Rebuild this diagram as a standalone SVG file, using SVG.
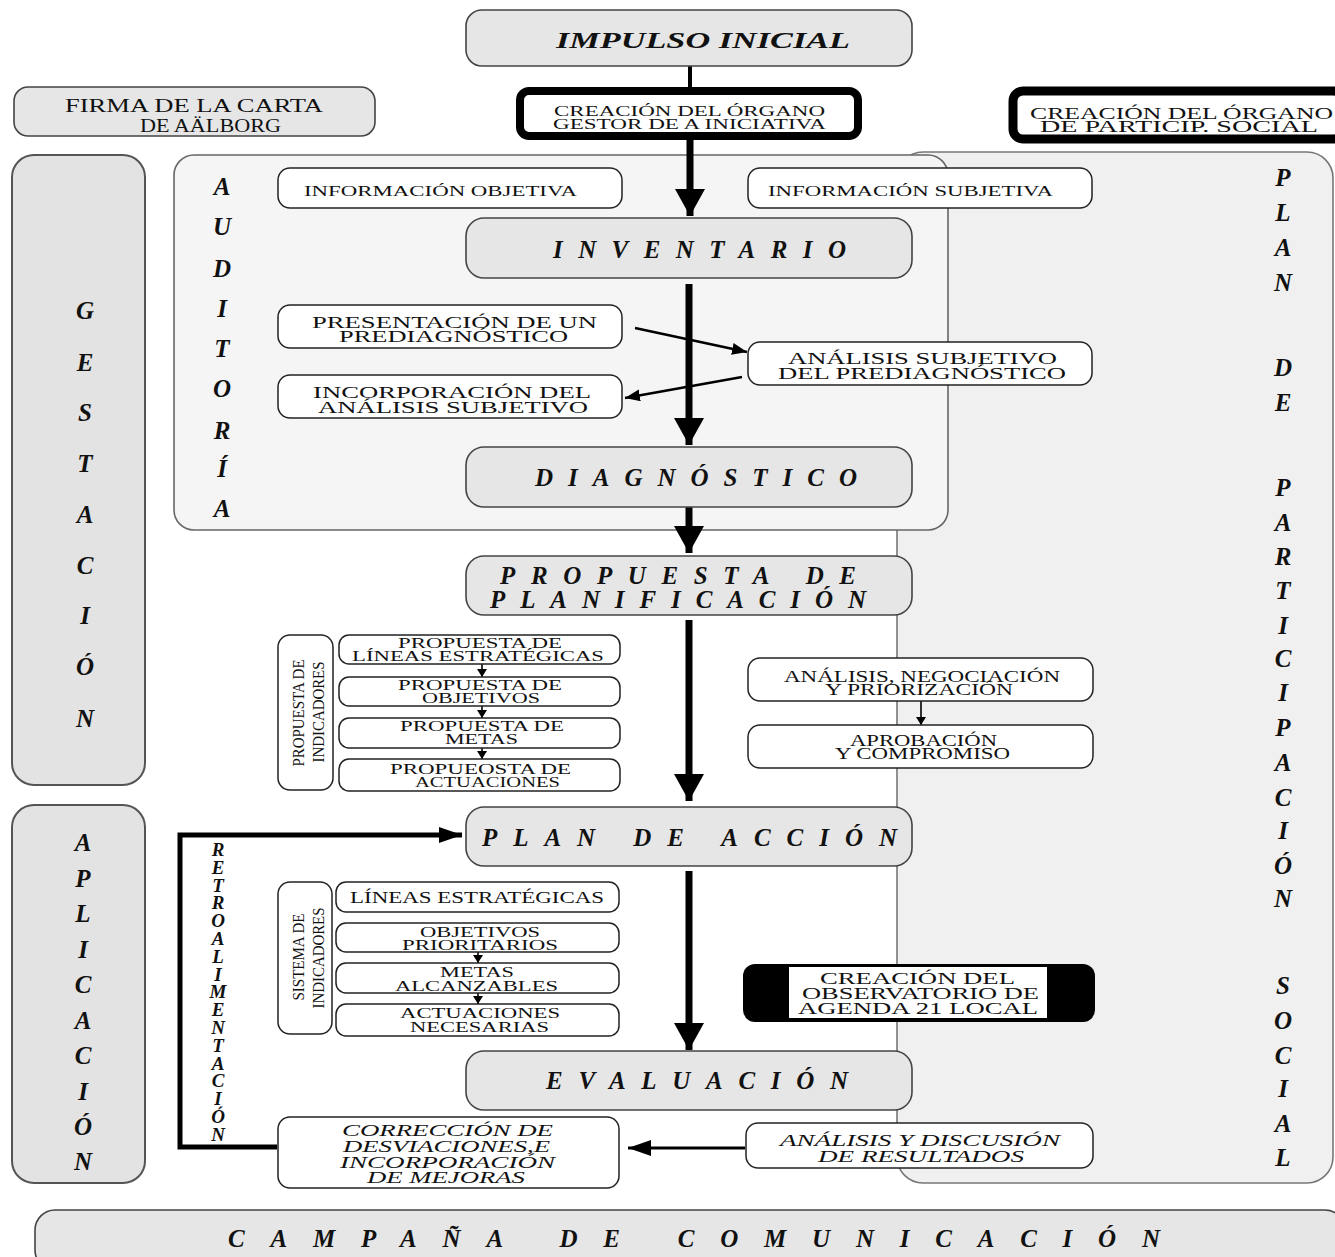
<svg xmlns="http://www.w3.org/2000/svg" width="1335" height="1257" viewBox="0 0 1335 1257">
<style>
text{font-family:"Liberation Serif","Times New Roman",serif;fill:#111}
.bi{font-weight:bold;font-style:italic}
.it{font-style:italic}
.big{font-size:25px;font-weight:bold;font-style:italic}
.col{font-size:25px;font-weight:bold;font-style:italic;text-anchor:middle}
.gbox{fill:#e6e6e6;stroke:#444;stroke-width:1.6}
.wbox{fill:#fff;stroke:#222;stroke-width:1.5}
.conn{stroke:#000;fill:none}
</style>
<defs>
<marker id="big" markerUnits="userSpaceOnUse" markerWidth="30" markerHeight="30" refX="27" refY="15" orient="auto">
<path d="M0,0 L27,15 L0,30 z" fill="#000"/>
</marker>
<marker id="med" markerUnits="userSpaceOnUse" markerWidth="24" markerHeight="16" refX="23" refY="8" orient="auto">
<path d="M0,0 L23,8 L0,16 z" fill="#000"/>
</marker>
<marker id="mid" markerUnits="userSpaceOnUse" markerWidth="16" markerHeight="12" refX="15" refY="6" orient="auto">
<path d="M0,0 L15,6 L0,12 z" fill="#000"/>
</marker>
<marker id="sm" markerUnits="userSpaceOnUse" markerWidth="9" markerHeight="10" refX="8" refY="5" orient="auto">
<path d="M0,0 L8,5 L0,10 z" fill="#000"/>
</marker>
</defs>

<!-- panels -->
<g id="panel-participacion">
<rect x="897" y="152" width="436" height="1031" rx="26" fill="#f0f0f0" stroke="#777" stroke-width="1.6"/>
<text class="col" x="1283"><tspan x="1283" y="186">P</tspan><tspan x="1283" y="221">L</tspan><tspan x="1283" y="256">A</tspan><tspan x="1283" y="291">N</tspan><tspan x="1283" y="376">D</tspan><tspan x="1283" y="411">E</tspan><tspan x="1283" y="496">P</tspan><tspan x="1283" y="531">A</tspan><tspan x="1283" y="565">R</tspan><tspan x="1283" y="599">T</tspan><tspan x="1283" y="634">I</tspan><tspan x="1283" y="667">C</tspan><tspan x="1283" y="701">I</tspan><tspan x="1283" y="736">P</tspan><tspan x="1283" y="771">A</tspan><tspan x="1283" y="806">C</tspan><tspan x="1283" y="839">I</tspan><tspan x="1283" y="874">Ó</tspan><tspan x="1283" y="907">N</tspan><tspan x="1283" y="994">S</tspan><tspan x="1283" y="1029">O</tspan><tspan x="1283" y="1064">C</tspan><tspan x="1283" y="1097">I</tspan><tspan x="1283" y="1132">A</tspan><tspan x="1283" y="1166">L</tspan></text>
</g>
<g id="panel-auditoria">
<rect x="174" y="155" width="774" height="375" rx="20" fill="#f6f5f6" stroke="#666" stroke-width="1.6"/>
<text class="col" x="222"><tspan x="222" y="195">A</tspan><tspan x="222" y="235">U</tspan><tspan x="222" y="277">D</tspan><tspan x="222" y="317">I</tspan><tspan x="222" y="357">T</tspan><tspan x="222" y="397">O</tspan><tspan x="222" y="439">R</tspan><tspan x="222" y="477">Í</tspan><tspan x="222" y="517">A</tspan></text>
</g>
<g id="panel-gestacion">
<rect x="12" y="155" width="133" height="630" rx="22" fill="#e3e3e3" stroke="#555" stroke-width="2"/>
<text class="col" x="85"><tspan x="85" y="319">G</tspan><tspan x="85" y="371">E</tspan><tspan x="85" y="421">S</tspan><tspan x="85" y="472">T</tspan><tspan x="85" y="523">A</tspan><tspan x="85" y="574">C</tspan><tspan x="85" y="624">I</tspan><tspan x="85" y="675">Ó</tspan><tspan x="85" y="727">N</tspan></text>
</g>
<g id="panel-aplicacion">
<rect x="12" y="805" width="133" height="378" rx="22" fill="#e3e3e3" stroke="#555" stroke-width="2"/>
<text class="col" x="83"><tspan x="83" y="851">A</tspan><tspan x="83" y="887">P</tspan><tspan x="83" y="922">L</tspan><tspan x="83" y="958">I</tspan><tspan x="83" y="993">C</tspan><tspan x="83" y="1029">A</tspan><tspan x="83" y="1064">C</tspan><tspan x="83" y="1100">I</tspan><tspan x="83" y="1135">Ó</tspan><tspan x="83" y="1170">N</tspan></text>
</g>

<!-- connectors -->
<g id="connectors">
<line class="conn" x1="690" y1="66" x2="690" y2="88" stroke-width="4"/>
<line class="conn" x1="690" y1="140" x2="690" y2="216" stroke-width="7" marker-end="url(#big)"/>
<line class="conn" x1="689" y1="284" x2="689" y2="445" stroke-width="7" marker-end="url(#big)"/>
<line class="conn" x1="689" y1="507" x2="689" y2="553" stroke-width="7" marker-end="url(#big)"/>
<line class="conn" x1="689" y1="620" x2="689" y2="801" stroke-width="7" marker-end="url(#big)"/>
<line class="conn" x1="689" y1="871" x2="689" y2="1050" stroke-width="7" marker-end="url(#big)"/>
<line class="conn" x1="635" y1="328" x2="747" y2="352" stroke-width="2.5" marker-end="url(#mid)"/>
<line class="conn" x1="742" y1="377" x2="625" y2="398" stroke-width="2.5" marker-end="url(#mid)"/>
<line class="conn" x1="921" y1="701" x2="921" y2="725" stroke-width="1.6" marker-end="url(#sm)"/>
<line class="conn" x1="482" y1="664" x2="482" y2="677" stroke-width="1.6" marker-end="url(#sm)"/>
<line class="conn" x1="482" y1="706" x2="482" y2="718" stroke-width="1.6" marker-end="url(#sm)"/>
<line class="conn" x1="482" y1="748" x2="482" y2="759" stroke-width="1.6" marker-end="url(#sm)"/>
<line class="conn" x1="478" y1="952" x2="478" y2="963" stroke-width="1.6" marker-end="url(#sm)"/>
<line class="conn" x1="478" y1="993" x2="478" y2="1004" stroke-width="1.6" marker-end="url(#sm)"/>
<line class="conn" x1="745" y1="1148" x2="628" y2="1148" stroke-width="3" marker-end="url(#med)"/>
<polyline class="conn" points="277,1147 180,1147 180,835 462,835" stroke-width="5" marker-end="url(#med)"/>
<text class="bi" font-size="19" text-anchor="middle"><tspan x="218" y="856">R</tspan><tspan x="218" y="874">E</tspan><tspan x="218" y="892">T</tspan><tspan x="218" y="909">R</tspan><tspan x="218" y="927">O</tspan><tspan x="218" y="945">A</tspan><tspan x="218" y="963">L</tspan><tspan x="218" y="981">I</tspan><tspan x="218" y="998">M</tspan><tspan x="218" y="1016">E</tspan><tspan x="218" y="1034">N</tspan><tspan x="218" y="1052">T</tspan><tspan x="218" y="1070">A</tspan><tspan x="218" y="1087">C</tspan><tspan x="218" y="1105">I</tspan><tspan x="218" y="1123">Ó</tspan><tspan x="218" y="1141">N</tspan></text>
</g>

<!-- nodes -->
<g id="impulso">
<rect class="gbox" x="466" y="10" width="446" height="56" rx="16"/>
<text class="bi" font-size="23" x="556" y="48" textLength="294" lengthAdjust="spacingAndGlyphs">IMPULSO INICIAL</text>
</g>
<g id="firma">
<rect class="gbox" x="14" y="87" width="361" height="49" rx="14"/>
<text font-size="19" x="65" y="112" textLength="258" lengthAdjust="spacingAndGlyphs">FIRMA DE LA CARTA</text>
<text font-size="19" x="140" y="132" textLength="141" lengthAdjust="spacingAndGlyphs">DE AÄLBORG</text>
</g>
<g id="organo-gestor">
<rect x="520" y="91" width="338" height="45" rx="9" fill="#fff" stroke="#000" stroke-width="8"/>
<text font-size="15" x="554" y="116" textLength="271" lengthAdjust="spacingAndGlyphs">CREACIÓN DEL ÓRGANO</text>
<text font-size="15" x="553" y="129" textLength="273" lengthAdjust="spacingAndGlyphs">GESTOR DE A INICIATIVA</text>
</g>
<g id="organo-participacion">
<rect x="1013" y="91" width="330" height="48" rx="10" fill="#fff" stroke="#000" stroke-width="9"/>
<text font-size="17" x="1030" y="119" textLength="303" lengthAdjust="spacingAndGlyphs">CREACIÓN DEL ÓRGANO</text>
<text font-size="17" x="1040" y="132" textLength="278" lengthAdjust="spacingAndGlyphs">DE PARTICIP. SOCIAL</text>
</g>
<g id="info-objetiva">
<rect class="wbox" x="278" y="168" width="344" height="40" rx="12"/>
<text font-size="15" x="304" y="196" textLength="273" lengthAdjust="spacingAndGlyphs">INFORMACIÓN OBJETIVA</text>
</g>
<g id="info-subjetiva">
<rect class="wbox" x="748" y="168" width="344" height="40" rx="12"/>
<text font-size="15" x="768" y="196" textLength="285" lengthAdjust="spacingAndGlyphs">INFORMACIÓN SUBJETIVA</text>
</g>
<g id="inventario">
<rect class="gbox" x="466" y="218" width="446" height="60" rx="18"/>
<text class="big" x="553" y="258" textLength="293" lengthAdjust="spacing">INVENTARIO</text>
</g>
<g id="prediagnostico">
<rect class="wbox" x="278" y="305" width="344" height="43" rx="12"/>
<text font-size="17" x="312" y="328" textLength="285" lengthAdjust="spacingAndGlyphs">PRESENTACIÓN DE UN</text>
<text font-size="17" x="339" y="342" textLength="229" lengthAdjust="spacingAndGlyphs">PREDIAGNÓSTICO</text>
</g>
<g id="analisis-subjetivo">
<rect class="wbox" x="748" y="342" width="344" height="43" rx="12"/>
<text font-size="17" x="788" y="364" textLength="269" lengthAdjust="spacingAndGlyphs">ANÁLISIS SUBJETIVO</text>
<text font-size="17" x="778" y="379" textLength="288" lengthAdjust="spacingAndGlyphs">DEL PREDIAGNÓSTICO</text>
</g>
<g id="incorporacion">
<rect class="wbox" x="278" y="375" width="344" height="43" rx="12"/>
<text font-size="17" x="313" y="398" textLength="278" lengthAdjust="spacingAndGlyphs">INCORPORACIÓN DEL</text>
<text font-size="17" x="318" y="413" textLength="270" lengthAdjust="spacingAndGlyphs">ANÁLISIS SUBJETIVO</text>
</g>
<g id="diagnostico">
<rect class="gbox" x="466" y="447" width="446" height="60" rx="18"/>
<text class="big" x="535" y="486" textLength="322" lengthAdjust="spacing">DIAGNÓSTICO</text>
</g>
<g id="propuesta-planificacion">
<rect class="gbox" x="466" y="556" width="446" height="59" rx="18"/>
<text class="big" x="500" y="584" textLength="356" lengthAdjust="spacing">PROPUESTA DE</text>
<text class="big" x="490" y="608" textLength="376" lengthAdjust="spacing">PLANIFICACIÓN</text>
</g>
<g id="propuesta-indicadores">
<rect class="wbox" x="278" y="635" width="55" height="155" rx="12"/>
<text font-size="17" text-anchor="middle" transform="translate(304,713) rotate(-90)" textLength="107" lengthAdjust="spacingAndGlyphs">PROPUESTA DE</text>
<text font-size="17" text-anchor="middle" transform="translate(324,712) rotate(-90)" textLength="101" lengthAdjust="spacingAndGlyphs">INDICADORES</text>
</g>
<g id="prop-lineas">
<rect class="wbox" x="339" y="635" width="281" height="29" rx="10"/>
<text font-size="15" x="398" y="648" textLength="164" lengthAdjust="spacingAndGlyphs">PROPUESTA DE</text>
<text font-size="15" x="352" y="661" textLength="252" lengthAdjust="spacingAndGlyphs">LÍNEAS ESTRATÉGICAS</text>
</g>
<g id="prop-objetivos">
<rect class="wbox" x="339" y="677" width="281" height="29" rx="10"/>
<text font-size="15" x="398" y="690" textLength="164" lengthAdjust="spacingAndGlyphs">PROPUESTA DE</text>
<text font-size="15" x="422" y="703" textLength="118" lengthAdjust="spacingAndGlyphs">OBJETIVOS</text>
</g>
<g id="prop-metas">
<rect class="wbox" x="339" y="718" width="281" height="30" rx="10"/>
<text font-size="15" x="400" y="731" textLength="164" lengthAdjust="spacingAndGlyphs">PROPUESTA DE</text>
<text font-size="15" x="445" y="744" textLength="73" lengthAdjust="spacingAndGlyphs">METAS</text>
</g>
<g id="prop-actuaciones">
<rect class="wbox" x="339" y="759" width="281" height="32" rx="10"/>
<text font-size="15" x="390" y="774" textLength="181" lengthAdjust="spacingAndGlyphs">PROPUEOSTA DE</text>
<text font-size="15" x="415" y="787" textLength="145" lengthAdjust="spacingAndGlyphs">ACTUACIONES</text>
</g>
<g id="negociacion">
<rect class="wbox" x="748" y="658" width="345" height="43" rx="12"/>
<text font-size="16" x="784" y="682" textLength="276" lengthAdjust="spacingAndGlyphs">ANÁLISIS, NEGOCIACIÓN</text>
<text font-size="16" x="825" y="695" textLength="188" lengthAdjust="spacingAndGlyphs">Y PRIORIZACIÓN</text>
</g>
<g id="aprobacion">
<rect class="wbox" x="748" y="725" width="345" height="43" rx="12"/>
<text font-size="16" x="850" y="746" textLength="147" lengthAdjust="spacingAndGlyphs">APROBACIÓN</text>
<text font-size="16" x="835" y="759" textLength="175" lengthAdjust="spacingAndGlyphs">Y COMPROMISO</text>
</g>
<g id="plan-accion">
<rect class="gbox" x="466" y="807" width="446" height="59" rx="18"/>
<text class="big" x="482" y="846" textLength="415" lengthAdjust="spacing">PLAN DE ACCIÓN</text>
</g>
<g id="sistema-indicadores">
<rect class="wbox" x="278" y="882" width="54" height="152" rx="12"/>
<text font-size="16" text-anchor="middle" transform="translate(304,957) rotate(-90)" textLength="87" lengthAdjust="spacingAndGlyphs">SISTEMA DE</text>
<text font-size="16" text-anchor="middle" transform="translate(324,958) rotate(-90)" textLength="101" lengthAdjust="spacingAndGlyphs">INDICADORES</text>
</g>
<g id="lineas">
<rect class="wbox" x="336" y="882" width="283" height="30" rx="10"/>
<text font-size="16" x="350" y="903" textLength="254" lengthAdjust="spacingAndGlyphs">LÍNEAS ESTRATÉGICAS</text>
</g>
<g id="objetivos">
<rect class="wbox" x="336" y="923" width="283" height="29" rx="10"/>
<text font-size="15" x="420" y="937" textLength="120" lengthAdjust="spacingAndGlyphs">OBJETIVOS</text>
<text font-size="15" x="402" y="950" textLength="156" lengthAdjust="spacingAndGlyphs">PRIORITARIOS</text>
</g>
<g id="metas">
<rect class="wbox" x="336" y="963" width="283" height="30" rx="10"/>
<text font-size="15" x="440" y="977" textLength="74" lengthAdjust="spacingAndGlyphs">METAS</text>
<text font-size="15" x="395" y="991" textLength="163" lengthAdjust="spacingAndGlyphs">ALCANZABLES</text>
</g>
<g id="actuaciones">
<rect class="wbox" x="336" y="1004" width="283" height="32" rx="10"/>
<text font-size="15" x="400" y="1018" textLength="160" lengthAdjust="spacingAndGlyphs">ACTUACIONES</text>
<text font-size="15" x="410" y="1032" textLength="139" lengthAdjust="spacingAndGlyphs">NECESARIAS</text>
</g>
<g id="observatorio">
<rect x="743" y="964" width="352" height="58" rx="12" fill="#000"/>
<rect x="789" y="967" width="258" height="51" fill="#fff"/>
<text font-size="17" x="820" y="984" textLength="195" lengthAdjust="spacingAndGlyphs">CREACIÓN DEL</text>
<text font-size="17" x="802" y="999" textLength="237" lengthAdjust="spacingAndGlyphs">OBSERVATORIO DE</text>
<text font-size="17" x="798" y="1014" textLength="240" lengthAdjust="spacingAndGlyphs">AGENDA 21 LOCAL</text>
</g>
<g id="evaluacion">
<rect class="gbox" x="466" y="1051" width="446" height="59" rx="18"/>
<text class="big" x="546" y="1089" textLength="302" lengthAdjust="spacing">EVALUACIÓN</text>
</g>
<g id="discusion">
<rect class="wbox" x="746" y="1123" width="347" height="45" rx="12"/>
<text class="it" font-size="17" x="780" y="1146" textLength="280" lengthAdjust="spacingAndGlyphs">ANÁLISIS Y DISCUSIÓN</text>
<text class="it" font-size="17" x="818" y="1162" textLength="206" lengthAdjust="spacingAndGlyphs">DE RESULTADOS</text>
</g>
<g id="correccion">
<rect class="wbox" x="278" y="1117" width="341" height="71" rx="12"/>
<text class="it" font-size="17" x="342" y="1136" textLength="211" lengthAdjust="spacingAndGlyphs">CORRECCIÓN DE</text>
<text class="it" font-size="17" x="343" y="1152" textLength="207" lengthAdjust="spacingAndGlyphs">DESVIACIONES,E</text>
<text class="it" font-size="17" x="340" y="1168" textLength="215" lengthAdjust="spacingAndGlyphs">INCORPORACIÓN</text>
<text class="it" font-size="17" x="367" y="1183" textLength="158" lengthAdjust="spacingAndGlyphs">DE MEJORAS</text>
</g>
<g id="campana">
<rect class="gbox" x="35" y="1210" width="1310" height="60" rx="20"/>
<text class="big" x="228" y="1247" textLength="932" lengthAdjust="spacing">CAMPAÑA DE COMUNICACIÓN</text>
</g>
</svg>
